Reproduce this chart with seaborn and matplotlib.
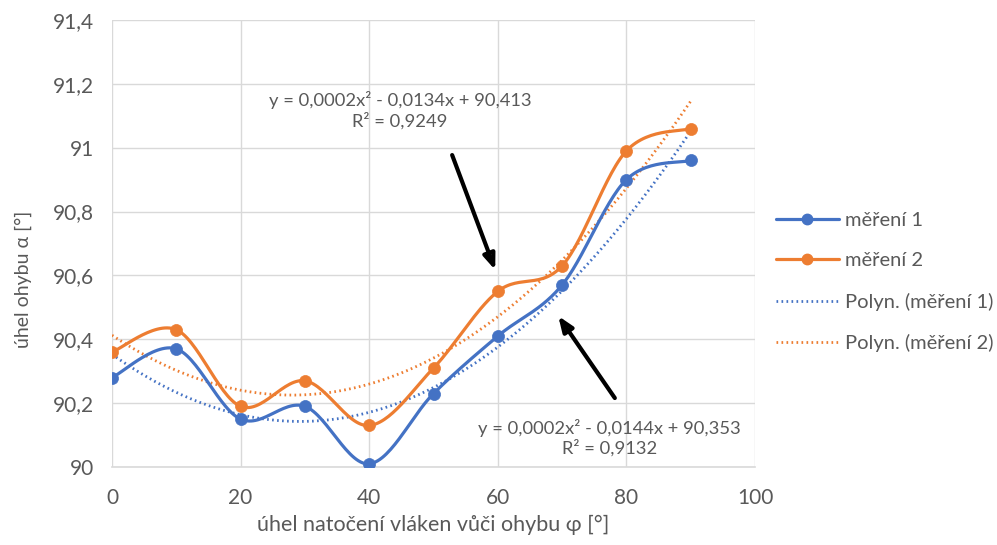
import numpy as np
import pandas as pd
import matplotlib
matplotlib.use("Agg")
import matplotlib.pyplot as plt
from matplotlib.lines import Line2D
from matplotlib.ticker import FuncFormatter, MultipleLocator
import seaborn as sns

# ---- data ----
phi = [0, 10, 20, 30, 40, 50, 60, 70, 80, 90]
mereni1 = [90.28, 90.37, 90.15, 90.19, 90.01, 90.23, 90.41, 90.57, 90.90, 90.96]
mereni2 = [90.36, 90.43, 90.19, 90.27, 90.13, 90.31, 90.55, 90.63, 90.99, 91.06]
series_names = ["měření 1", "měření 2"]
trend_names = ["Polyn. (měření 1)", "Polyn. (měření 2)"]
eq1 = "y = 0,0002x² - 0,0144x + 90,353\nR² = 0,9132"
eq2 = "y = 0,0002x² - 0,0134x + 90,413\nR² = 0,9249"
xlabel = "úhel natočení vláken vůči ohybu φ [°]"
ylabel = "úhel ohybu α [°]"

BLUE = "#4472C4"
ORANGE = "#ED7D31"
GRAY = "#595959"

sns.set_style("white")
plt.rcParams["font.family"] = ["Lato", "DejaVu Sans"]


def smooth(x, y, n=30):
    """Catmull-Rom style Bezier smoothing (like Excel smoothed lines)."""
    x = np.asarray(x, float)
    y = np.asarray(y, float)
    P = np.column_stack([x, y])
    out = []
    for i in range(len(P) - 1):
        p0 = P[i - 1] if i > 0 else P[i]
        p1 = P[i]
        p2 = P[i + 1]
        p3 = P[i + 2] if i + 2 < len(P) else P[i + 1]
        c1 = p1 + (p2 - p0) / 6.0
        c2 = p2 - (p3 - p1) / 6.0
        t = np.linspace(0, 1, n, endpoint=(i == len(P) - 2))[:, None]
        b = (1 - t) ** 3 * p1 + 3 * (1 - t) ** 2 * t * c1 + 3 * (1 - t) * t ** 2 * c2 + t ** 3 * p2
        out.append(b)
    out = np.vstack(out)
    return out[:, 0], out[:, 1]


fig = plt.figure(figsize=(9.97, 5.45), dpi=100)
ax = fig.add_axes([112 / 997, 1 - 467 / 545, (755 - 112) / 997, (467 - 20) / 545])

colors = [BLUE, ORANGE]
datas = [mereni1, mereni2]
DOT = (0, (0.6, 1.2))

# trendlines (polynomial, degree 2)
xt = np.linspace(0, 90, 200)
for data, c in zip(datas, colors):
    coef = np.polyfit(phi, data, 2)
    df_t = pd.DataFrame({"x": xt, "y": np.polyval(coef, xt)})
    sns.lineplot(data=df_t, x="x", y="y", ax=ax, color=c, lw=2.0,
                 linestyle=DOT, sort=False, estimator=None)

# smoothed series with markers
for data, c in zip(datas, colors):
    sx, sy = smooth(phi, data)
    df_s = pd.DataFrame({"x": sx, "y": sy})
    sns.lineplot(data=df_s, x="x", y="y", ax=ax, color=c, lw=2.3,
                 sort=False, estimator=None)
    df_p = pd.DataFrame({"x": phi, "y": data})
    sns.scatterplot(data=df_p, x="x", y="y", ax=ax, color=c, s=75,
                    edgecolor=c, linewidth=0.5, zorder=5)

ax.set_xlim(0, 100)
ax.set_ylim(90, 91.4)
ax.xaxis.set_major_locator(MultipleLocator(20))
ax.yaxis.set_major_locator(MultipleLocator(0.2))
fmt = FuncFormatter(lambda v, p: (f"{v:.1f}".rstrip("0").rstrip(".")).replace(".", ","))
ax.yaxis.set_major_formatter(fmt)
ax.xaxis.set_major_formatter(FuncFormatter(lambda v, p: f"{v:.0f}"))
ax.grid(True, color="#D9D9D9", lw=1.0)
ax.set_axisbelow(True)
for s in ["top", "right", "left"]:
    ax.spines[s].set_visible(False)
ax.spines["bottom"].set_color("#D9D9D9")
ax.spines["bottom"].set_linewidth(1.2)
ax.tick_params(axis="both", length=0, labelsize=15, colors=GRAY)
ax.tick_params(axis="y", pad=13)
ax.tick_params(axis="x", pad=15)
ax.set_xlabel(xlabel, fontsize=15.5, color=GRAY)
ax.set_ylabel(ylabel, fontsize=14, color=GRAY)
ax.xaxis.set_label_coords(0.5, -0.108)
ax.yaxis.set_label_coords(-0.138, 0.42)
ax.yaxis.label.set_verticalalignment("center")

# annotations
ax.text(44.8, 91.118, eq2, ha="center", va="center", fontsize=13.2, color=GRAY,
        linespacing=1.2)
ax.text(77.4, 90.092, eq1, ha="center", va="center", fontsize=13.2, color=GRAY,
        linespacing=1.2)
arrow_style = dict(arrowstyle="-|>,head_length=0.9,head_width=0.35",
                   color="black", lw=3, shrinkA=0, shrinkB=0, fill=False)
ax.annotate("", xy=(59.6, 90.617), xytext=(52.9, 90.977), arrowprops=arrow_style)
ax.annotate("", xy=(69.4, 90.473), xytext=(78.2, 90.216), arrowprops=arrow_style)

handles = [
    Line2D([], [], color=BLUE, lw=2.3, marker="o", markersize=7.5),
    Line2D([], [], color=ORANGE, lw=2.3, marker="o", markersize=7.5),
    Line2D([], [], color=BLUE, lw=2.0, linestyle=DOT),
    Line2D([], [], color=ORANGE, lw=2.0, linestyle=DOT),
]
labels = series_names + trend_names
leg = fig.legend(handles, labels, loc="center left",
                 bbox_to_anchor=(758 / 997, 1 - 282 / 545),
                 frameon=False, fontsize=14.5, labelcolor=GRAY, handlelength=3.1,
                 labelspacing=1.15, handletextpad=0.3)

fig.savefig("out.png", dpi=100)
